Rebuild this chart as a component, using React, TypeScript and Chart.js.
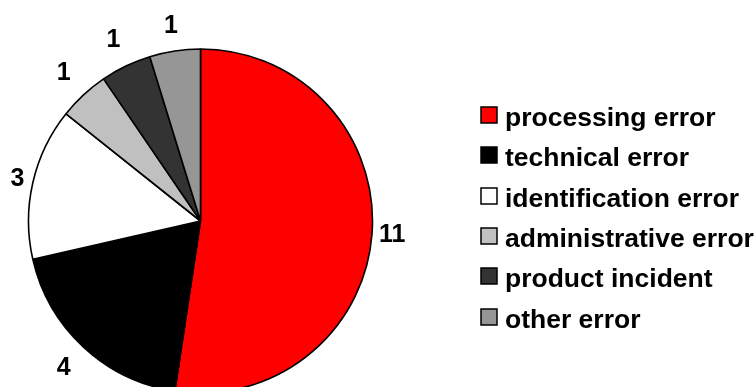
import React, { useEffect, useRef } from "react";
import { Chart, registerables } from "chart.js";

Chart.register(...registerables);

const categories = [
  "processing error",
  "technical error",
  "identification error",
  "administrative error",
  "product incident",
  "other error",
];
const counts = [11, 4, 3, 1, 1, 1];
const sliceColors = ["#FF0000", "#000000", "#FFFFFF", "#C0C0C0", "#333333", "#969696"];

const FONT = "Arial, 'Liberation Sans', sans-serif";

const valueLabels = {
  id: "valueLabels",
  afterDatasetsDraw(chart: any) {
    const ctx = chart.ctx;
    const meta = chart.getDatasetMeta(0);
    const values = chart.data.datasets[0].data as number[];
    ctx.save();
    ctx.font = `bold 25px ${FONT}`;
    ctx.fillStyle = "#000";
    ctx.textAlign = "center";
    ctx.textBaseline = "middle";
    meta.data.forEach((arc: any, i: number) => {
      const { x, y, startAngle, endAngle, outerRadius } = arc.getProps(
        ["x", "y", "startAngle", "endAngle", "outerRadius"],
        true
      );
      const mid = (startAngle + endAngle) / 2;
      const txt = String(values[i]);
      const w = ctx.measureText(txt).width;
      const c = Math.abs(Math.cos(mid));
      const s2 = Math.sin(2 * mid);
      const gv = 25 + 6 * s2 * s2;
      const gap = gv + (7 + w / 2 - gv) * Math.pow(c, 6);
      const r = outerRadius + gap;
      ctx.fillText(txt, x + Math.cos(mid) * r, y + Math.sin(mid) * r);
    });
    ctx.restore();
  },
};

const sideLegend = {
  id: "sideLegend",
  afterDraw(chart: any) {
    const ctx = chart.ctx;
    const labels = chart.data.labels as string[];
    const colors = chart.data.datasets[0].backgroundColor as string[];
    const boxX = 481;
    const firstTop = 107;
    const step = 40.3;
    const box = 16;
    ctx.save();
    ctx.font = `bold 26.5px ${FONT}`;
    ctx.textAlign = "left";
    ctx.textBaseline = "alphabetic";
    labels.forEach((lab, i) => {
      const top = Math.round(firstTop + i * step);
      ctx.fillStyle = colors[i];
      ctx.fillRect(boxX, top, box, box);
      ctx.lineWidth = 1.5;
      ctx.strokeStyle = "#000";
      ctx.strokeRect(boxX, top, box, box);
      ctx.fillStyle = "#000";
      ctx.fillText(lab, 505, top + 19);
    });
    ctx.restore();
  },
};

export default function App() {
  const canvasRef = useRef<HTMLCanvasElement | null>(null);

  useEffect(() => {
    document.body.style.margin = "0";
    const canvas = canvasRef.current;
    if (!canvas) return;
    const chart = new Chart(canvas, {
      type: "pie",
      data: {
        labels: categories,
        datasets: [
          {
            data: counts,
            backgroundColor: sliceColors,
            borderColor: "#000000",
            borderWidth: 1.6,
            clip: false,
          } as any,
        ],
      },
      options: {
        animation: false,
        responsive: false,
        devicePixelRatio: 1,
        radius: 172,
        layout: { padding: { left: 0, right: 355, top: 55, bottom: 0 } },
        plugins: {
          legend: { display: false },
          tooltip: { enabled: false },
        },
      } as any,
      plugins: [valueLabels, sideLegend],
    });
    return () => chart.destroy();
  }, []);

  return (
    <div style={{ position: "absolute", left: 0, top: 0, width: 756, height: 387, overflow: "hidden", background: "#fff" }}>
      <canvas ref={canvasRef} width={756} height={387} />
    </div>
  );
}
